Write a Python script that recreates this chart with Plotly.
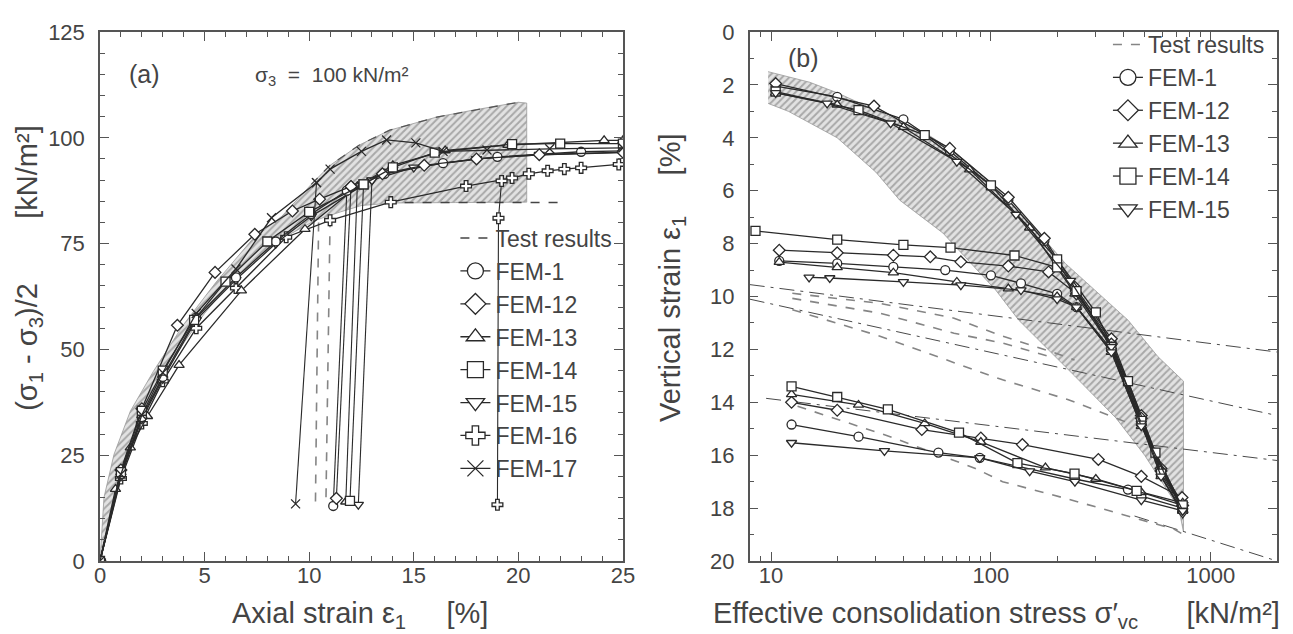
import math
import plotly.graph_objects as go

FONT = "Liberation Sans, Arial, sans-serif"
INK = "#2a2a2a"
GRAY = "#858585"
TXT = "#444444"

# ---------------- panel (a) : stress-strain ----------------
a_x_ticks = [0, 5, 10, 15, 20, 25]
a_y_ticks = [0, 25, 50, 75, 100, 125]

# test-result envelope (hatched)
a_band_up_x = [0, 0.19, 0.67, 1.45, 2.55, 3.97, 5.55, 7.28, 8.7, 10.1, 11.0, 12.4, 13.85, 16.1, 17.8, 20.0]
a_band_up_y = [0, 15, 25.2, 35.4, 44.8, 55.7, 65.9, 76, 81.5, 89, 93.5, 98.3, 101.8, 104.9, 106.5, 108.4]
a_band_lo_x = [20.4, 20.4, 17, 14, 12.5, 11.5, 10.3, 9, 8, 7, 6, 5, 4, 3, 2, 1, 0.5, 0]
a_band_lo_y = [108.2, 84.8, 84.7, 84.6, 84, 82.5, 80.5, 77, 73.5, 69.5, 64.5, 58.5, 51.5, 43.5, 34, 21, 12, 0]
a_test_top_x = [10.1, 11.0, 12.4, 13.85, 16.1, 17.8, 20.0]
a_test_top_y = [89, 93.5, 98.3, 101.8, 104.9, 106.5, 108.4]
a_test_res_x = [13.7, 21.9]
a_test_res_y = [84.7, 84.7]
a_test_un1_x = [10.45, 10.3]
a_test_un1_y = [80, 13.5]
a_test_un2_x = [11.0, 10.8]
a_test_un2_y = [81, 13.5]

a_fem1_x = [0, 1, 2, 3, 4.6, 6.5, 8.4, 10.1, 11.8, 13.6, 16.4, 19, 23, 25]
a_fem1_y = [0, 20.5, 34, 43.5, 57.5, 67, 75.5, 82, 87.5, 91.5, 94, 95.5, 96.7, 96.9]
a_fem12_x = [0, 1, 2, 3.7, 5.5, 7.4, 9.2, 10.5, 12, 13.5, 15.5, 18, 21, 25]
a_fem12_y = [0, 21.5, 36, 55.7, 68.2, 77.2, 82.7, 85.5, 88.5, 91.5, 93.5, 95, 96, 96.6]
a_fem13_x = [0, 0.74, 1.45, 2.27, 3.78, 6.76, 9.8, 12.3, 14, 16.5, 19.5, 24.1, 25]
a_fem13_y = [0, 17, 26.8, 34.2, 46.3, 63.9, 78.4, 88.5, 93.5, 97, 98.3, 99.4, 99.4]
a_fem14_x = [0, 1, 2, 3, 4.5, 6, 8, 10, 12.6, 14, 16, 19.7, 22, 25]
a_fem14_y = [0, 21, 35.5, 45, 57, 66, 75.5, 82.5, 89, 93, 96.5, 98.5, 98.6, 98.6]
a_fem15_x = [0, 1, 2, 3, 4.6, 6.5, 8.4, 10.1, 13, 15, 18, 21, 25]
a_fem15_y = [0, 20, 33.5, 43, 57, 66.5, 75, 81.5, 90, 93, 95, 96, 96.5]
a_fem16_x = [0, 1, 2, 3, 4.6, 6.5, 8.9, 11, 13.9, 17.5, 19.7, 20.5, 21.4, 22.2, 23, 24.8]
a_fem16_y = [0, 19.5, 32.5, 42.5, 55, 64.5, 76.5, 80.5, 84.8, 88.6, 90.5, 91.5, 92.2, 92.6, 92.9, 93.7]
a_fem17_x = [0, 1, 2, 3, 4.6, 6.5, 8.2, 10.35, 11, 12.5, 13.7, 15.1, 16.4, 18.5, 21.5, 25]
a_fem17_y = [0, 20.5, 34.5, 44.5, 58.5, 69, 81.1, 89.4, 92.6, 96.8, 99.5, 98.8, 96.8, 97.1, 97.4, 97.6]

a_fem1_drop_x = [11.8, 11.15]
a_fem1_drop_y = [87.5, 13.0]
a_fem12_drop_x = [12.0, 11.3]
a_fem12_drop_y = [88.5, 14.8]
a_fem13_drop_x = [12.3, 11.75]
a_fem13_drop_y = [88.5, 14.0]
a_fem14_drop_x = [12.6, 11.95]
a_fem14_drop_y = [89.0, 14.2]
a_fem15_drop_x = [13.0, 12.35]
a_fem15_drop_y = [90.0, 13.3]
a_fem16_drop_x = [19.2, 19.05, 19.0]
a_fem16_drop_y = [89.8, 81.0, 13.3]
a_fem17_drop_x = [10.35, 9.35]
a_fem17_drop_y = [89.4, 13.5]

# ---------------- panel (b) : consolidation ----------------
b_x_ticks = [10, 100, 1000]
b_x_ticktext = ["10", "100", "1000"]
b_y_ticks = [0, 2, 4, 6, 8, 10, 12, 14, 16, 18, 20]

b_band_up_x = [9.7, 15, 20, 30, 50, 70, 100, 150, 218, 297, 421, 574, 751]
b_band_up_y = [1.5, 1.9, 2.3, 2.95, 3.8, 4.6, 5.7, 7.2, 8.75, 9.76, 10.9, 12.27, 13.2]
b_band_lo_x = [751, 715, 500, 371, 240, 203, 134, 105, 60.5, 38.5, 30, 20, 12, 9.7]
b_band_lo_y = [18.9, 18.0, 16.0, 14.6, 13.0, 12.4, 10.9, 9.75, 7.6, 6.36, 5.3, 4.0, 3.0, 2.7]

b_test1_x = [12.5, 31.3, 68, 113, 190, 240]
b_test1_y = [9.88, 10.26, 10.82, 11.5, 12.1, 12.4]
b_test2_x = [12.5, 31.3, 68, 113, 190]
b_test2_y = [10.07, 10.63, 11.39, 11.76, 12.3]
b_test3_x = [12.5, 31.3, 68, 113, 225, 421]
b_test3_y = [10.5, 11.5, 12.5, 13.15, 13.9, 14.78]
b_test4_x = [13.2, 34.3, 85, 113, 225, 421, 683, 750]
b_test4_y = [14.15, 15.28, 16.5, 17.0, 17.66, 18.29, 18.8, 19.0]

b_ref1_x = [8, 2000]
b_ref1_y = [9.55, 12.1]
b_ref2_x = [8, 2000]
b_ref2_y = [10.1, 14.5]
b_ref3_x = [9.5, 2000]
b_ref3_y = [13.85, 16.2]
b_ref4_x = [450, 2000]
b_ref4_y = [18.3, 20.0]

b_fem1_up_x = [10.5, 20, 40, 65, 120, 175, 241, 353, 483, 594, 745]
b_fem1_up_y = [2.05, 2.45, 3.3, 4.5, 6.35, 7.9, 9.75, 11.7, 14.6, 16.6, 17.95]
b_fem12_up_x = [10.5, 29.4, 65, 120, 175, 241, 353, 483, 594, 740]
b_fem12_up_y = [1.95, 2.8, 4.4, 6.25, 7.8, 9.65, 11.6, 14.5, 16.5, 17.8]
b_fem13_up_x = [10.5, 20, 40, 80, 150, 241, 353, 483, 594, 745]
b_fem13_up_y = [2.3, 2.75, 3.6, 5.2, 7.4, 9.9, 11.9, 14.8, 16.8, 18.1]
b_fem14_up_x = [10.5, 25, 50, 100, 200, 300, 420, 560, 745]
b_fem14_up_y = [2.25, 2.95, 3.9, 5.8, 8.6, 10.6, 13.2, 15.9, 18.0]
b_fem15_up_x = [10.5, 18, 35, 70, 130, 230, 353, 483, 594, 745]
b_fem15_up_y = [2.3, 2.7, 3.45, 4.9, 6.9, 9.4, 11.9, 14.8, 16.8, 18.2]

b_fem14_mid_x = [8.5, 20, 40, 65.5, 128, 200, 245, 353, 483, 594, 745]
b_fem14_mid_y = [7.52, 7.85, 8.05, 8.15, 8.45, 8.9, 9.8, 11.9, 14.7, 16.7, 18.0]
b_fem12_mid_x = [10.9, 20, 36, 53, 73, 120, 183, 245, 353, 483, 594, 745]
b_fem12_mid_y = [8.25, 8.35, 8.44, 8.5, 8.69, 8.85, 9.07, 9.9, 11.8, 14.6, 16.6, 17.9]
b_fem1_mid_x = [10.9, 20, 36, 62, 100, 137, 200, 245, 353, 483, 745]
b_fem1_mid_y = [8.65, 8.75, 8.88, 9.0, 9.2, 9.5, 9.9, 10.4, 12.0, 14.8, 18.0]
b_fem13_mid_x = [10.9, 20, 36, 70, 120, 200, 245, 353, 483, 745]
b_fem13_mid_y = [8.7, 8.9, 9.1, 9.45, 9.7, 10.0, 10.4, 12.1, 14.9, 18.1]
b_fem15_mid_x = [14.9, 18.5, 40, 73, 137, 200, 245, 353, 483, 745]
b_fem15_mid_y = [9.28, 9.3, 9.45, 9.57, 9.76, 10.1, 10.4, 12.1, 14.9, 18.1]

b_fem14_low_x = [12.4, 20, 34, 71.6, 132, 240, 460, 745]
b_fem14_low_y = [13.4, 13.8, 14.27, 15.15, 16.3, 16.7, 17.35, 17.9]
b_fem12_low_x = [12.4, 20, 48.5, 90, 139, 308, 483, 740]
b_fem12_low_y = [14.0, 14.3, 15.03, 15.35, 15.6, 16.16, 16.8, 17.6]
b_fem13_low_x = [12.4, 25, 50, 90, 177, 300, 483, 745]
b_fem13_low_y = [13.7, 14.1, 14.8, 15.5, 16.47, 16.9, 17.4, 17.8]
b_fem1_low_x = [12.4, 25, 57.7, 89, 241, 420, 483, 745]
b_fem1_low_y = [14.84, 15.3, 15.9, 16.1, 16.9, 17.3, 17.55, 18.0]
b_fem15_low_x = [12.4, 32.8, 89, 150, 241, 483, 745]
b_fem15_low_y = [15.53, 15.84, 16.1, 16.6, 17.0, 17.7, 18.1]

# ---------------- figure ----------------
fig = go.Figure()

SYM = {
    "FEM-1": "circle", "FEM-12": "diamond", "FEM-13": "triangle-up",
    "FEM-14": "square", "FEM-15": "triangle-down", "FEM-16": "cross",
    "FEM-17": "x-thin",
}


def marker(name, size):
    return dict(symbol=SYM[name], size=size, color="white",
                line=dict(color=INK, width=1.3))


def fem(x, y, name, xa, ya, width=1.3):
    fig.add_trace(go.Scatter(
        x=x, y=y, mode="lines+markers", xaxis=xa, yaxis=ya,
        line=dict(color=INK, width=width), marker=marker(name, 9),
        showlegend=False, hoverinfo="skip"))


def test_line(x, y, xa, ya, color, width=1.5, dash="dash"):
    fig.add_trace(go.Scatter(
        x=x, y=y, mode="lines", xaxis=xa, yaxis=ya,
        line=dict(color=color, width=width, dash=dash),
        showlegend=False, hoverinfo="skip"))


def band(upx, upy, lox, loy, xa, ya):
    fig.add_trace(go.Scatter(
        x=upx + lox, y=upy + loy, mode="lines", xaxis=xa, yaxis=ya,
        fill="toself", fillcolor="#e0e0e0",
        fillpattern=dict(shape="/", fgcolor="#6e6e6e", bgcolor="#e2e2e2",
                         size=5, solidity=0.4),
        line=dict(color="#999999", width=0.8),
        showlegend=False, hoverinfo="skip"))


# panel (a)
band(a_band_up_x, a_band_up_y, a_band_lo_x, a_band_lo_y, "x", "y")
test_line(a_test_top_x, a_test_top_y, "x", "y", "#555", 1.3)
test_line(a_test_res_x, a_test_res_y, "x", "y", "#444", 1.5)
test_line(a_test_un1_x, a_test_un1_y, "x", "y", GRAY, 1.6)
test_line(a_test_un2_x, a_test_un2_y, "x", "y", GRAY, 1.6)

for nm, xs, ys, dx, dy in [
    ("FEM-16", a_fem16_x, a_fem16_y, a_fem16_drop_x, a_fem16_drop_y),
    ("FEM-13", a_fem13_x, a_fem13_y, a_fem13_drop_x, a_fem13_drop_y),
    ("FEM-15", a_fem15_x, a_fem15_y, a_fem15_drop_x, a_fem15_drop_y),
    ("FEM-1", a_fem1_x, a_fem1_y, a_fem1_drop_x, a_fem1_drop_y),
    ("FEM-12", a_fem12_x, a_fem12_y, a_fem12_drop_x, a_fem12_drop_y),
    ("FEM-14", a_fem14_x, a_fem14_y, a_fem14_drop_x, a_fem14_drop_y),
    ("FEM-17", a_fem17_x, a_fem17_y, a_fem17_drop_x, a_fem17_drop_y),
]:
    fem(xs, ys, nm, "x", "y")
    fem(dx, dy, nm, "x", "y", width=1.1)

# panel (b)
band(b_band_up_x, b_band_up_y, b_band_lo_x, b_band_lo_y, "x2", "y2")
for rx, ry in [(b_ref1_x, b_ref1_y), (b_ref2_x, b_ref2_y),
               (b_ref3_x, b_ref3_y), (b_ref4_x, b_ref4_y)]:
    test_line(rx, ry, "x2", "y2", "#4a4a4a", 1.0, "longdashdot")
for tx, ty in [(b_test1_x, b_test1_y), (b_test2_x, b_test2_y),
               (b_test3_x, b_test3_y), (b_test4_x, b_test4_y)]:
    test_line(tx, ty, "x2", "y2", GRAY, 1.6)

for nm, sets in [
    ("FEM-1", [(b_fem1_up_x, b_fem1_up_y), (b_fem1_mid_x, b_fem1_mid_y), (b_fem1_low_x, b_fem1_low_y)]),
    ("FEM-12", [(b_fem12_up_x, b_fem12_up_y), (b_fem12_mid_x, b_fem12_mid_y), (b_fem12_low_x, b_fem12_low_y)]),
    ("FEM-13", [(b_fem13_up_x, b_fem13_up_y), (b_fem13_mid_x, b_fem13_mid_y), (b_fem13_low_x, b_fem13_low_y)]),
    ("FEM-14", [(b_fem14_up_x, b_fem14_up_y), (b_fem14_mid_x, b_fem14_mid_y), (b_fem14_low_x, b_fem14_low_y)]),
    ("FEM-15", [(b_fem15_up_x, b_fem15_up_y), (b_fem15_mid_x, b_fem15_mid_y), (b_fem15_low_x, b_fem15_low_y)]),
]:
    for xs, ys in sets:
        fem(xs, ys, nm, "x2", "y2")


# legend entries (symbols only, no data)
def legend_entry(name, leg, xa, ya, dash=None, color=INK):
    if dash:
        fig.add_trace(go.Scatter(
            x=[None], y=[None], mode="lines", name=name, legend=leg,
            legendgroup=leg + name, xaxis=xa, yaxis=ya,
            line=dict(color=color, width=1.5, dash=dash)))
    else:
        fig.add_trace(go.Scatter(
            x=[None], y=[None], mode="lines+markers", name=name, legend=leg,
            legendgroup=leg + name, xaxis=xa, yaxis=ya,
            line=dict(color=INK, width=1.3), marker=marker(name, 16)))


legend_entry("Test results", "legend", "x", "y", dash="dash", color="#444")
for nm in ["FEM-1", "FEM-12", "FEM-13", "FEM-14", "FEM-15", "FEM-16", "FEM-17"]:
    legend_entry(nm, "legend", "x", "y")
legend_entry("Test results", "legend2", "x2", "y2", dash="dash", color=GRAY)
for nm in ["FEM-1", "FEM-12", "FEM-13", "FEM-14", "FEM-15"]:
    legend_entry(nm, "legend2", "x2", "y2")

axis_common = dict(
    showline=True, linecolor="#555", linewidth=1.5, mirror="allticks",
    ticks="inside", ticklen=9, tickwidth=1.2, tickcolor="#555",
    showgrid=False, zeroline=False,
    tickfont=dict(family=FONT, size=22, color=TXT),
)

fig.update_layout(
    width=1293, height=634,
    margin=dict(l=92, r=18, t=21, b=81),
    paper_bgcolor="white", plot_bgcolor="white",
    font=dict(family=FONT, color=TXT),
    xaxis=dict(domain=[0, 0.4443], range=[0, 25], tickvals=a_x_ticks,
               minor=dict(dtick=1, ticks="inside", ticklen=5, tickcolor="#555"),
               ticklabelstandoff=-6, anchor="y", **axis_common),
    yaxis=dict(domain=[0, 1], range=[0, 125], tickvals=a_y_ticks,
               minor=dict(dtick=5, ticks="inside", ticklen=5, tickcolor="#555"),
               ticklabelstandoff=9, anchor="x", **axis_common),
    xaxis2=dict(domain=[0.552, 1], type="log",
                range=[math.log10(8), math.log10(2000)],
                tickvals=b_x_ticks, ticktext=b_x_ticktext,
                minor=dict(dtick="D1", ticks="inside", ticklen=5, tickcolor="#555"),
                ticklabelstandoff=-6, anchor="y2", **axis_common),
    yaxis2=dict(domain=[0, 1], range=[20, 0], tickvals=b_y_ticks,
                minor=dict(dtick=1, ticks="inside", ticklen=5, tickcolor="#555"),
                ticklabelstandoff=9, anchor="x2", **axis_common),
    legend=dict(x=0.4396, xanchor="right", y=0.651, yanchor="top",
                bgcolor="rgba(0,0,0,0)", tracegroupgap=0,
                font=dict(family=FONT, size=23, color=TXT)),
    legend2=dict(x=0.994, xanchor="right", y=1.017, yanchor="top",
                 bgcolor="rgba(0,0,0,0)", tracegroupgap=0,
                 font=dict(family=FONT, size=23, color=TXT)),
)

NB = "\u00a0"
ann = [
    dict(text="(a)", x=2.13, y=115.1, xref="x", yref="y", font=dict(size=25)),
    dict(text="σ<sub>3</sub>" + NB * 2 + "=" + NB * 2 + "100 kN/m²", x=11.1, y=114.6,
         xref="x", yref="y", font=dict(size=21)),
    dict(text="(b)", x=math.log10(14.1), y=0.98, xref="x2", yref="y2", font=dict(size=25)),
    dict(text="(σ<sub>1</sub> - σ<sub>3</sub>)/2" + NB * 8 + "[kN/m²]",
         x=-0.06, y=0.555, xref="paper", yref="paper", textangle=-90, font=dict(size=29)),
    dict(text="Vertical strain ε<sub>1</sub>" + NB * 5 + "[%]",
         x=0.486, y=0.535, xref="paper", yref="paper", textangle=-90, font=dict(size=29)),
    dict(text="Axial strain ε<sub>1</sub>" + NB * 5 + "[%]",
         x=0.2206, y=-0.103, xref="paper", yref="paper", font=dict(size=29)),
    dict(text="Effective consolidation stress σ′<sub>vc</sub>" + NB * 6 + "[kN/m²]",
         x=0.7616, y=-0.103, xref="paper", yref="paper", font=dict(size=29)),
]
for a in ann:
    a.setdefault("showarrow", False)
    a["xanchor"] = "center"
    a["yanchor"] = "middle"
    a["font"] = dict(family=FONT, color=TXT, size=a["font"]["size"])
    fig.add_annotation(**a)

fig.write_html("out.html")
